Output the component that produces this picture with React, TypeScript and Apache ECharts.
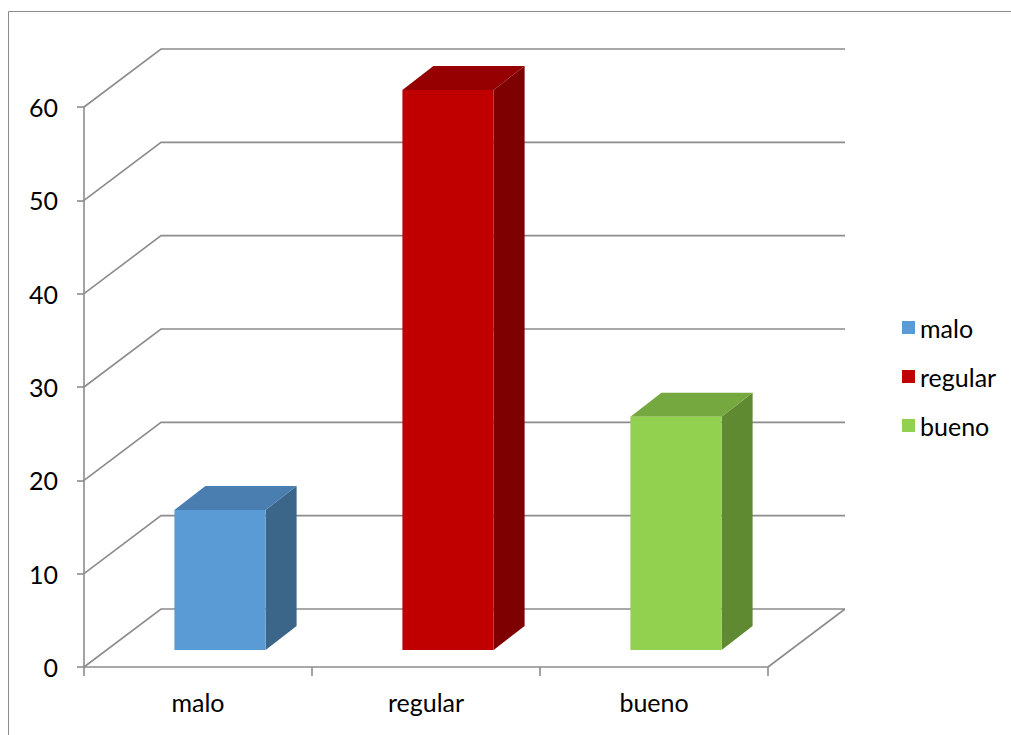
import React, { useEffect, useRef } from 'react';
import * as echarts from 'echarts';

const categories = ['malo', 'regular', 'bueno'];
const values = [15, 60, 25];
const yTicks = [0, 10, 20, 30, 40, 50, 60];
const frontColors = ['#5B9BD5', '#C00000', '#92D050'];
const topColors = ['#4A7DB0', '#960000', '#76A840'];
const sideColors = ['#3B6589', '#7F0000', '#5F8A32'];

const WALL_DX = 77;
const WALL_DY = -58;
const BAR_OFF_X = 22;
const BAR_OFF_Y = -17;
const BAR_DX = 31;
const BAR_DY = -24;
const GRID_COLOR = '#8C8C8C';
const FONT = 'Lato';
const FS = 25;

export default function App() {
  const ref = useRef<HTMLDivElement>(null);
  useEffect(() => {
    if (!ref.current) return;
    const chart = echarts.init(ref.current, undefined, { renderer: 'svg' });

    const wallSeries: any = {
      type: 'custom',
      name: '__walls',
      z: 1,
      clip: false,
      silent: true,
      encode: { x: 0, y: 1 },
      data: yTicks.map((v) => [0, v]),
      renderItem: (params: any, api: any) => {
        const cs = params.coordSys;
        const v = api.value(1);
        const y = api.coord([0, v])[1];
        const children: any[] = [
          {
            type: 'polyline',
            shape: {
              points: [
                [cs.x, y],
                [cs.x + WALL_DX, y + WALL_DY],
                [cs.x + cs.width + WALL_DX, y + WALL_DY],
              ],
            },
            style: { stroke: GRID_COLOR, lineWidth: 1.6, fill: 'none' },
          },
        ];
        if (v === 0) {
          children.push({
            type: 'line',
            shape: { x1: cs.x + cs.width, y1: y, x2: cs.x + cs.width + WALL_DX, y2: y + WALL_DY },
            style: { stroke: GRID_COLOR, lineWidth: 1.6 },
          });
        }
        return { type: 'group', children };
      },
    };

    const barSeries: any[] = categories.map((name, idx) => ({
      type: 'custom',
      name,
      z: 3,
      clip: false,
      encode: { x: 0, y: 1 },
      itemStyle: { color: frontColors[idx] },
      data: [[idx, values[idx]]],
      renderItem: (params: any, api: any) => {
        const i = api.value(0);
        const v = api.value(1);
        const base = api.coord([i, 0]);
        const top = api.coord([i, v]);
        const bw = api.size([1, 0])[0] * 0.4;
        const x0 = base[0] - bw / 2 + BAR_OFF_X;
        const x1 = x0 + bw;
        const yb = base[1] + BAR_OFF_Y;
        const yt = top[1] + BAR_OFF_Y;
        return {
          type: 'group',
          children: [
            {
              type: 'polygon',
              shape: { points: [[x1, yt], [x1 + BAR_DX, yt + BAR_DY], [x1 + BAR_DX, yb + BAR_DY], [x1, yb]] },
              style: { fill: sideColors[idx] },
            },
            {
              type: 'polygon',
              shape: { points: [[x0, yt], [x0 + BAR_DX, yt + BAR_DY], [x1 + BAR_DX, yt + BAR_DY], [x1, yt]] },
              style: { fill: topColors[idx] },
            },
            {
              type: 'rect',
              shape: { x: x0, y: yt, width: bw, height: yb - yt },
              style: { fill: frontColors[idx] },
            },
          ],
        };
      },
    }));

    chart.setOption({
      animation: false,
      backgroundColor: '#fff',
      textStyle: { fontFamily: FONT },
      grid: { left: 84, right: 243, top: 107, bottom: 68 },
      graphic: [
        {
          type: 'rect',
          shape: { x: 8.5, y: 11.5, width: 1200, height: 900 },
          style: { fill: 'none', stroke: '#8C8C8C', lineWidth: 1 },
          silent: true,
        },
      ],
      legend: {
        orient: 'vertical',
        left: 897,
        top: 310,
        itemWidth: 13,
        itemHeight: 13,
        itemGap: 24,
        icon: 'rect',
        selectedMode: false,
        data: categories,
        textStyle: { fontSize: FS, color: '#000', fontFamily: FONT },
      },
      xAxis: {
        type: 'category',
        data: categories,
        axisLine: { show: true, lineStyle: { color: GRID_COLOR, width: 1.6 } },
        axisTick: { show: true, length: 9, lineStyle: { color: GRID_COLOR, width: 1.6 } },
        axisLabel: { fontSize: FS, color: '#000', margin: 22, fontFamily: FONT },
        splitLine: { show: false },
      },
      yAxis: {
        type: 'value',
        min: 0,
        max: 60,
        interval: 10,
        axisLine: { show: true, lineStyle: { color: GRID_COLOR, width: 1.6 } },
        axisTick: { show: true, length: 7, lineStyle: { color: GRID_COLOR, width: 1.6 } },
        axisLabel: { fontSize: FS, color: '#000', margin: 26, fontFamily: FONT },
        splitLine: { show: false },
      },
      series: [wallSeries, ...barSeries],
    });
    return () => chart.dispose();
  }, []);
  return (
    <div
      ref={ref}
      style={{ position: 'fixed', left: 0, top: 0, width: 1011, height: 735 }}
    />
  );
}
